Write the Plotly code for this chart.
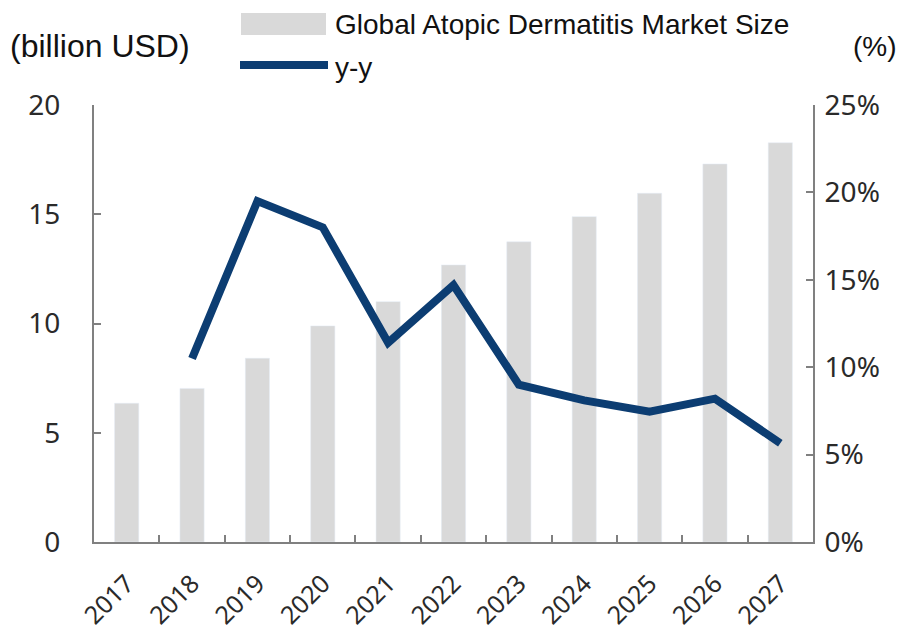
import plotly.graph_objects as go

years = ["2017", "2018", "2019", "2020", "2021", "2022", "2023", "2024", "2025", "2026", "2027"]
market_size = [6.35, 7.03, 8.41, 9.89, 11.0, 12.68, 13.74, 14.89, 15.96, 17.3, 18.27]
yy_years = ["2018", "2019", "2020", "2021", "2022", "2023", "2024", "2025", "2026", "2027"]
yy_growth = [10.5, 19.5, 18.0, 11.4, 14.7, 9.0, 8.1, 7.45, 8.2, 5.65]

W, H = 911, 635
L, R, T, B = 94, 98, 105, 93
PW, PH = W - L - R, H - T - B

def px(x):
    return (x - L) / PW

def py(y):
    return (H - B - y) / PH

BAR_COLOR = "#d9d9d9"
LINE_COLOR = "#0c3d72"
AXIS_COLOR = "#808080"
TICK_FONT = dict(family="Noto Sans", size=28, color="#2a2a2a")
TEXT_FONT = "Liberation Sans"

fig = go.Figure()
fig.add_trace(go.Bar(x=years, y=market_size, marker_color=BAR_COLOR, width=0.37,
                     name="Global Atopic Dermatitis Market Size", showlegend=False))
fig.add_trace(go.Scatter(x=yy_years, y=yy_growth, yaxis="y2", mode="lines",
                         line=dict(color=LINE_COLOR, width=8), name="y-y", showlegend=False))

fig.update_layout(
    width=W, height=H,
    margin=dict(l=L, r=R, t=T, b=B, autoexpand=False),
    plot_bgcolor="white", paper_bgcolor="white",
    xaxis=dict(type="category", range=[-0.5, 10.5], showline=True, linecolor=AXIS_COLOR, linewidth=2,
               ticks="inside", tickson="boundaries", ticklen=7, tickcolor=AXIS_COLOR, tickwidth=2,
               tickangle=-45, tickfont=dict(family="Noto Sans", size=25, color="#2a2a2a"),
               ticklabelstandoff=15, showgrid=False, zeroline=False, automargin=False),
    yaxis=dict(range=[0, 20], dtick=5, showline=True, linecolor=AXIS_COLOR, linewidth=2,
               ticks="inside", ticklen=7, tickcolor=AXIS_COLOR, tickwidth=2, automargin=False,
               tickfont=TICK_FONT, ticklabelstandoff=26, showgrid=False, zeroline=False),
    yaxis2=dict(range=[0, 25], dtick=5, overlaying="y", side="right", ticksuffix="%",
                showline=True, linecolor=AXIS_COLOR, linewidth=2, automargin=False,
                ticks="inside", ticklen=7, tickcolor=AXIS_COLOR, tickwidth=2,
                tickfont=TICK_FONT, ticklabelstandoff=4, showgrid=False, zeroline=False),
    showlegend=False,
)

# custom legend swatches
fig.add_shape(type="rect", xref="paper", yref="paper", x0=px(241), x1=px(326), y0=py(35), y1=py(13),
              fillcolor=BAR_COLOR, line=dict(width=0))
fig.add_shape(type="line", xref="paper", yref="paper", x0=px(240), x1=px(328), y0=py(65), y1=py(65),
              line=dict(color=LINE_COLOR, width=8))

fig.add_annotation(xref="paper", yref="paper", x=px(333), y=py(25), xanchor="left", yanchor="middle",
                   text="Global Atopic Dermatitis Market Size", showarrow=False,
                   font=dict(family=TEXT_FONT, size=28, color="#111111"))
fig.add_annotation(xref="paper", yref="paper", x=px(333), y=py(68), xanchor="left", yanchor="middle",
                   text="y-y", showarrow=False,
                   font=dict(family=TEXT_FONT, size=28, color="#111111"))
fig.add_annotation(xref="paper", yref="paper", x=px(8), y=py(46), xanchor="left", yanchor="middle",
                   text="(billion USD)", showarrow=False,
                   font=dict(family=TEXT_FONT, size=32, color="#111111"))
fig.add_annotation(xref="paper", yref="paper", x=px(851), y=py(46), xanchor="left", yanchor="middle",
                   text="(%)", showarrow=False,
                   font=dict(family=TEXT_FONT, size=28, color="#111111"))

fig.write_html("out.html")
